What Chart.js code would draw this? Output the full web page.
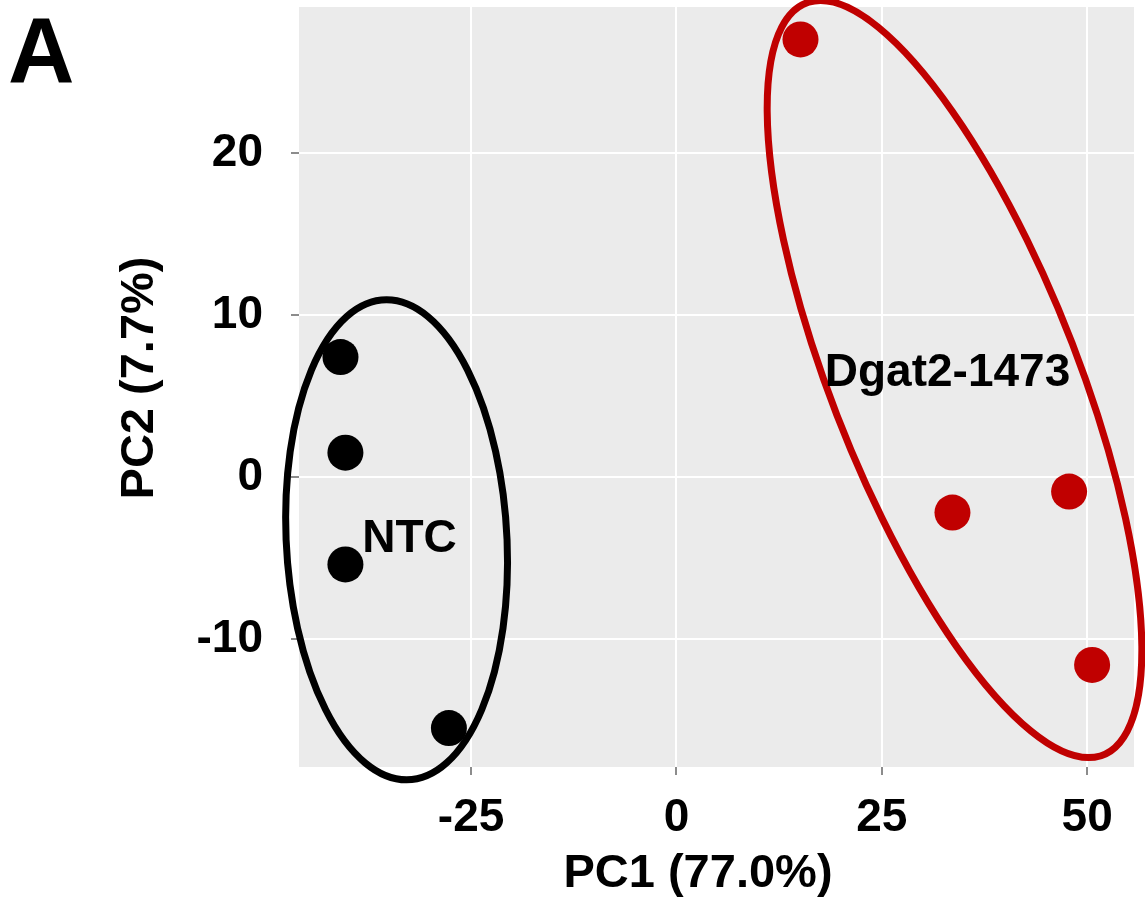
<!DOCTYPE html>
<html>
<head>
<meta charset="utf-8">
<script src="https://cdn.jsdelivr.net/npm/chart.js@4.4.1/dist/chart.umd.min.js"></script>
<style>
  html, body { margin: 0; padding: 0; background: #fff; }
  canvas { display: block; }
</style>
</head>
<body>
<canvas id="pca" width="1145" height="902"></canvas>
<script>
// PCA scores
const ntcPC1 = [-40.9, -40.3, -40.3, -27.7];
const ntcPC2 = [7.4, 1.5, -5.4, -15.5];
const dgatPC1 = [15.1, 33.6, 47.8, 50.6];
const dgatPC2 = [27.0, -2.2, -0.9, -11.6];

const groupNames = ['NTC', 'Dgat2-1473'];
// label anchor of each group (data units)
const labelPC1 = [-32.5, 33.0];
const labelPC2 = [-3.85, 6.4];

// group ellipses (data units): centre, semi-axis to the top point, horizontal conjugate semi-axis
const ellCenterX = [-34.07, 33.85];
const ellCenterY = [-3.88, 6.04];
const ellTopX = [-1.22, -16.31];
const ellTopY = [14.81, 23.36];
const ellSideX = [13.45, 15.94];

const xTicks = [-25, 0, 25, 50];
const yTicks = [-10, 0, 10, 20];

const groupColors = ['#000000', '#C00000'];
const FONT = '"Liberation Sans", Arial, Helvetica, sans-serif';

function toPoints(xs, ys) {
    return xs.map((x, i) => ({ x: x, y: ys[i] }));
}

// keep the panel where the figure has it: no extra room for overhanging labels
function noOverhang(s) {
    s.paddingTop = 0;
    s.paddingBottom = 0;
    s.paddingLeft = 0;
    s.paddingRight = 0;
}

const pcaDecor = {
    id: 'pcaDecor',
    beforeDraw(chart) {
        const { ctx, chartArea: a } = chart;
        ctx.save();
        ctx.fillStyle = '#EBEBEB';
        ctx.fillRect(a.left, a.top, a.right - a.left, a.bottom - a.top);
        ctx.restore();
    },
    beforeDatasetsDraw(chart) {
        const { ctx, scales: { x, y } } = chart;
        ellCenterX.forEach((cx, i) => {
            const px = x.getPixelForValue(cx);
            const py = y.getPixelForValue(ellCenterY[i]);
            const ux = x.getPixelForValue(cx + ellTopX[i]) - px;
            const uy = y.getPixelForValue(ellCenterY[i] + ellTopY[i]) - py;
            const vx = x.getPixelForValue(cx + ellSideX[i]) - px;
            ctx.save();
            ctx.beginPath();
            ctx.save();
            ctx.transform(ux, uy, vx, 0, px, py);
            ctx.arc(0, 0, 1, 0, Math.PI * 2);
            ctx.restore();
            ctx.lineWidth = 7;
            ctx.strokeStyle = groupColors[i];
            ctx.stroke();
            ctx.restore();
        });
    },
    afterDraw(chart) {
        const { ctx, scales: { x, y } } = chart;
        ctx.save();
        ctx.fillStyle = '#000';

        // group labels
        ctx.font = 'bold 46px ' + FONT;
        ctx.textAlign = 'center';
        ctx.textBaseline = 'middle';
        groupNames.forEach((name, i) => {
            ctx.fillText(name, x.getPixelForValue(labelPC1[i]), y.getPixelForValue(labelPC2[i]));
        });

        // axis titles
        ctx.font = 'bold 47px ' + FONT;
        ctx.textBaseline = 'alphabetic';
        ctx.fillText('PC1 (77.0%)', 698, 887);
        ctx.save();
        ctx.translate(153, 378);
        ctx.rotate(-Math.PI / 2);
        ctx.fillText('PC2 (7.7%)', 0, 0);
        ctx.restore();

        // panel letter
        ctx.font = 'bold 92px ' + FONT;
        ctx.textAlign = 'left';
        ctx.fillText('A', 8, 82);
        ctx.restore();
    }
};

const tickFont = { family: FONT, size: 46, weight: 'bold' };

new Chart(document.getElementById('pca'), {
    type: 'scatter',
    data: {
        datasets: [
            {
                label: groupNames[0],
                data: toPoints(ntcPC1, ntcPC2),
                backgroundColor: groupColors[0],
                borderWidth: 0,
                pointRadius: 18
            },
            {
                label: groupNames[1],
                data: toPoints(dgatPC1, dgatPC2),
                backgroundColor: groupColors[1],
                borderWidth: 0,
                pointRadius: 18
            }
        ]
    },
    options: {
        responsive: false,
        animation: false,
        devicePixelRatio: 1,
        layout: { autoPadding: false, padding: { top: 7, right: 11, left: 0, bottom: 0 } },
        plugins: {
            legend: { display: false },
            tooltip: { enabled: false }
        },
        scales: {
            x: {
                type: 'linear',
                min: -45.95,
                max: 55.7,
                afterBuildTicks: s => { s.ticks = xTicks.map(v => ({ value: v })); },
                afterFit: s => { s.height = 135; noOverhang(s); },
                ticks: { color: '#000', font: tickFont, padding: 16, maxRotation: 0 },
                grid: { color: '#FFFFFF', lineWidth: 2, tickColor: '#8c8c8c', tickLength: 8, tickWidth: 2 },
                border: { display: false }
            },
            y: {
                type: 'linear',
                min: -17.9,
                max: 29.0,
                afterBuildTicks: s => { s.ticks = yTicks.map(v => ({ value: v })); },
                afterFit: s => { s.width = 299; noOverhang(s); },
                ticks: { color: '#000', font: tickFont, padding: 28 },
                grid: { color: '#FFFFFF', lineWidth: 2, tickColor: '#8c8c8c', tickLength: 8, tickWidth: 2 },
                border: { display: false }
            }
        }
    },
    plugins: [pcaDecor]
});
</script>
</body>
</html>
